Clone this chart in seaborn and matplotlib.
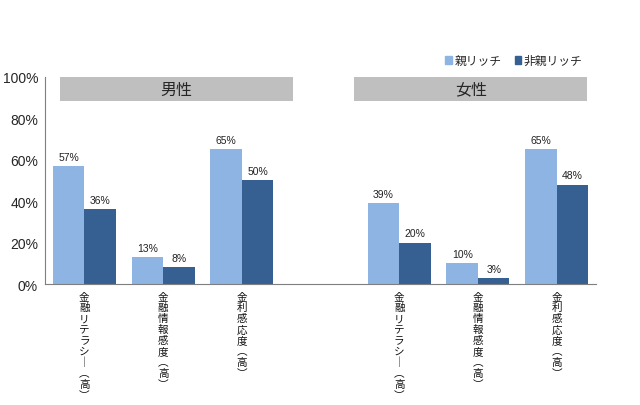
import pandas as pd
import numpy as np
import matplotlib.pyplot as plt
import seaborn as sns

groups = ["男性", "女性"]
items = ["金融リテラシー（高）", "金融情報感度（高）", "金利感応度（高）"]
series = ["親リッチ", "非親リッチ"]
oya_male = [57, 13, 65]
oya_female = [39, 10, 65]
hioya_male = [36, 8, 50]
hioya_female = [20, 3, 48]
yticks = [0, 20, 40, 60, 80, 100]

colors = ["#8DB4E2", "#366092"]

rows = []
for g, a, b in [(groups[0], oya_male, hioya_male), (groups[1], oya_female, hioya_female)]:
    for i, it in enumerate(items):
        rows.append({"slot": g + it, "series": series[0], "value": a[i]})
        rows.append({"slot": g + it, "series": series[1], "value": b[i]})
df = pd.DataFrame(rows)
order = [groups[0] + it for it in items] + ["_gap"] + [groups[1] + it for it in items]

sns.set_theme(style="white")
plt.rcParams['font.family'] = ['Liberation Sans', 'Noto Sans CJK JP', 'DejaVu Sans']

fig = plt.figure(figsize=(6.4, 4.06), dpi=100)
ax = fig.add_axes([0.0703, 0.298, 0.861, 0.510])

sns.barplot(df, x="slot", y="value", hue="series", order=order,
            palette=colors, ax=ax, legend=False, saturation=1, width=0.8,
            linewidth=0)

for c in ax.containers:
    ax.bar_label(c, fmt="{:.0f}%", padding=3, fontsize=7.5, color="#222222")

ax.set_ylim(0, 100)
ax.set_xlim(-0.5, 6.5)
ax.set_yticks(yticks)
ax.set_yticklabels([f"{v}%" for v in yticks], fontsize=10)

# vertical (tategaki) category labels, one character per step
vmap = {"ー": "｜", "（": "︵", "）": "︶"}
ax.set_xticks(range(7))
ax.set_xticklabels([""] * 7)
for pos, slot in enumerate(order):
    if slot == "_gap":
        continue
    label = slot[2:]
    for j, ch in enumerate(label):
        ax.annotate(vmap.get(ch, ch), xy=(pos, 0), xycoords=("data", "axes fraction"),
                    xytext=(0, -9 - j * 7.85), textcoords="offset points",
                    ha="center", va="center", fontsize=7.6, color="#111111",
                    family=['Noto Sans CJK JP', 'DejaVu Sans'], annotation_clip=False)

ax.set_xticks(np.arange(0.5, 6.5, 1), minor=True)
ax.tick_params(axis="x", which="major", length=0)
ax.tick_params(axis="x", which="minor", direction="in", length=4, color="#7f7f7f", width=0.8)
ax.tick_params(axis="y", which="major", direction="out", length=3, color="#7f7f7f", width=0.8, pad=2)
ax.set_xlabel("")
ax.set_ylabel("")

for side in ["top", "right"]:
    ax.spines[side].set_visible(False)
for side in ["left", "bottom"]:
    ax.spines[side].set_color("#7f7f7f")
    ax.spines[side].set_linewidth(0.8)

# group header bands
bands = [(-0.31, 2.65), (3.43, 6.39)]
for (x0, x1), g in zip(bands, groups):
    ax.add_patch(plt.Rectangle((x0, 88.5), x1 - x0, 11.5, color="#BFBFBF",
                               clip_on=False, zorder=3, lw=0))
    ax.text((x0 + x1) / 2, 94.2, g, ha="center", va="center", fontsize=11.5,
            family=['Noto Sans CJK JP'], zorder=4)

handles = [plt.Rectangle((0, 0), 1, 1, color=c) for c in colors]
fig.legend(handles, series, loc="center", bbox_to_anchor=(0.803, 0.848), ncol=2,
           frameon=False, handlelength=0.55, handleheight=0.55,
           handletextpad=0.25, columnspacing=1.1, prop={'family': ['Noto Sans CJK JP'], 'size': 8.5})

fig.savefig("out.png", dpi=100)
